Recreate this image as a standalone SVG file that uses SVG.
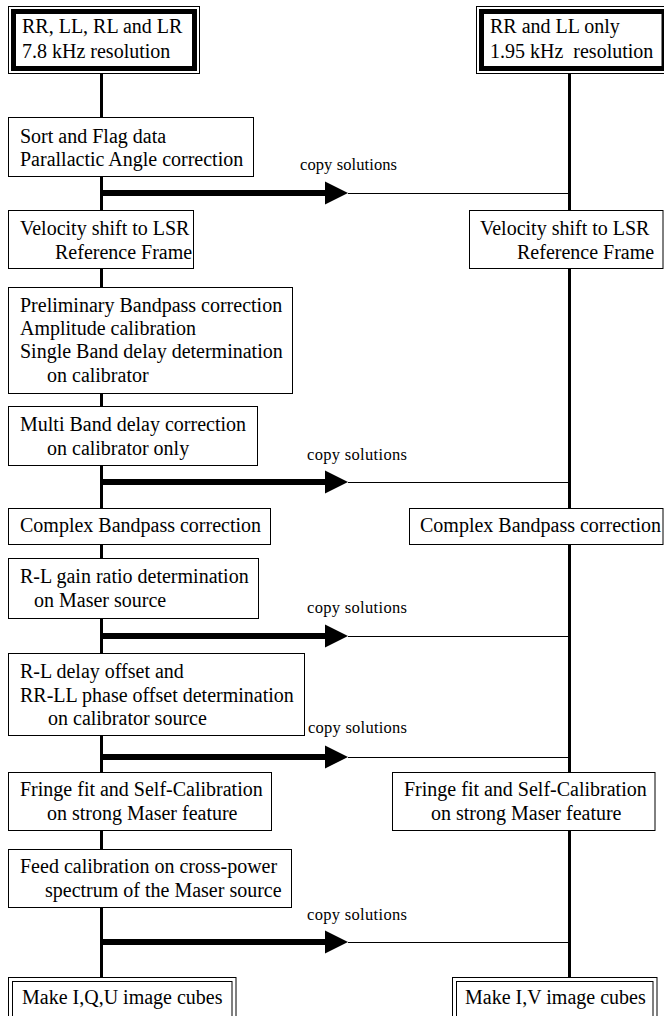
<svg xmlns="http://www.w3.org/2000/svg" width="664" height="1016" viewBox="0 0 664 1016">
<style>
  text { font-family: "Liberation Serif", "Times New Roman", serif; font-size: 20px; fill: #000; white-space: pre; }
  .lbl { font-size: 16.5px; }
  .box { fill: #fff; stroke: #000; stroke-width: 1; }
  .band { fill: none; stroke: #000; stroke-width: 5; }
  .thin { fill: none; stroke: #000; stroke-width: 1; }
  .spine { stroke: #000; stroke-width: 3; fill: none; }
  .thick { stroke: #000; stroke-width: 6; fill: none; }
  .head { fill: #000; }
</style>
<defs>
  <polygon id="ah" class="head" points="0,-11.5 23,0 0,11.5"/>
</defs>
<rect width="664" height="1016" fill="#fff"/>

<g id="connectors">
  <line class="spine" x1="101.5" y1="74" x2="101.5" y2="978"/>
  <line class="spine" x1="569.5" y1="74" x2="569.5" y2="978"/>
  <g id="copy1">
    <line class="thick" x1="102" y1="193" x2="326" y2="193"/>
    <use href="#ah" x="325" y="193"/>
    <line class="thin" x1="348" y1="193.5" x2="570" y2="193.5"/>
    <text class="lbl" x="300" y="170" textLength="97" lengthAdjust="spacing">copy solutions</text>
  </g>
  <g id="copy2">
    <line class="thick" x1="102" y1="482" x2="326" y2="482"/>
    <use href="#ah" x="325" y="482"/>
    <line class="thin" x1="348" y1="482.5" x2="570" y2="482.5"/>
    <text class="lbl" x="307" y="460" textLength="100" lengthAdjust="spacing">copy solutions</text>
  </g>
  <g id="copy3">
    <line class="thick" x1="102" y1="636" x2="326" y2="636"/>
    <use href="#ah" x="325" y="636"/>
    <line class="thin" x1="348" y1="636.5" x2="570" y2="636.5"/>
    <text class="lbl" x="307" y="613" textLength="100" lengthAdjust="spacing">copy solutions</text>
  </g>
  <g id="copy4">
    <line class="thick" x1="102" y1="757" x2="326" y2="757"/>
    <use href="#ah" x="325" y="757"/>
    <line class="thin" x1="348" y1="757.5" x2="570" y2="757.5"/>
    <text class="lbl" x="308" y="733" textLength="99" lengthAdjust="spacing">copy solutions</text>
  </g>
  <g id="copy5">
    <line class="thick" x1="102" y1="942" x2="326" y2="942"/>
    <use href="#ah" x="325" y="942"/>
    <line class="thin" x1="348" y1="942.5" x2="570" y2="942.5"/>
    <text class="lbl" x="307" y="920" textLength="100" lengthAdjust="spacing">copy solutions</text>
  </g>
</g>

<g id="start-left">
  <rect class="box" x="8.5" y="6.5" width="191" height="67"/>
  <rect class="band" x="13.5" y="11.5" width="181" height="57"/>
  <text x="22" y="33">RR, LL, RL and LR</text>
  <text x="22" y="58">7.8 kHz resolution</text>
</g>
<g id="start-right">
  <rect class="box" x="476.5" y="6.5" width="192.5" height="67"/>
  <rect class="band" x="481.5" y="11.5" width="182.5" height="57"/>
  <text x="490" y="33">RR and LL only</text>
  <text x="490" y="58">1.95 kHz  resolution</text>
</g>

<g id="sort-flag">
  <rect class="box" x="8.5" y="117.5" width="245" height="59"/>
  <text x="20" y="143">Sort and Flag data</text>
  <text x="20" y="166">Parallactic Angle correction</text>
</g>

<g id="velocity-left">
  <rect class="box" x="8.5" y="210.5" width="185" height="58"/>
  <text x="20" y="235">Velocity shift to LSR</text>
  <text x="55" y="259">Reference Frame</text>
</g>
<g id="velocity-right">
  <rect class="box" x="469.5" y="210.5" width="193.5" height="58"/>
  <text x="480" y="235">Velocity shift to LSR</text>
  <text x="517" y="259">Reference Frame</text>
</g>

<g id="preliminary">
  <rect class="box" x="8.5" y="287.5" width="284" height="106"/>
  <text x="20" y="312">Preliminary Bandpass correction</text>
  <text x="20" y="335">Amplitude calibration</text>
  <text x="20" y="358">Single Band delay determination</text>
  <text x="47" y="382">on calibrator</text>
</g>

<g id="multiband">
  <rect class="box" x="8.5" y="406.5" width="249" height="59"/>
  <text x="20" y="431">Multi Band delay correction</text>
  <text x="47" y="455">on calibrator only</text>
</g>

<g id="complex-left">
  <rect class="box" x="8.5" y="508.5" width="262" height="36"/>
  <text x="20" y="532">Complex Bandpass correction</text>
</g>
<g id="complex-right">
  <rect class="box" x="409.5" y="508.5" width="253.5" height="36"/>
  <text x="420" y="532">Complex Bandpass correction</text>
</g>

<g id="gain-ratio">
  <rect class="box" x="8.5" y="558.5" width="250" height="60"/>
  <text x="20" y="583">R-L gain ratio determination</text>
  <text x="34" y="607">on Maser source</text>
</g>

<g id="delay-offset">
  <rect class="box" x="8.5" y="653.5" width="296" height="82"/>
  <text x="20" y="678">R-L delay offset and</text>
  <text x="20" y="702">RR-LL phase offset determination</text>
  <text x="48" y="725">on calibrator source</text>
</g>

<g id="fringe-left">
  <rect class="box" x="8.5" y="772.5" width="263" height="58"/>
  <text x="20" y="796">Fringe fit and Self-Calibration</text>
  <text x="47" y="820">on strong Maser feature</text>
</g>
<g id="fringe-right">
  <rect class="box" x="392.5" y="772.5" width="262.5" height="58"/>
  <text x="404" y="796">Fringe fit and Self-Calibration</text>
  <text x="431" y="820">on strong Maser feature</text>
</g>

<g id="feed-cal">
  <rect class="box" x="8.5" y="849.5" width="283" height="58"/>
  <text x="20" y="873">Feed calibration on cross-power</text>
  <text x="45" y="897">spectrum of the Maser source</text>
</g>

<g id="image-left">
  <rect class="box" x="8.5" y="977.5" width="227.5" height="50"/>
  <rect class="box" x="12.5" y="981.5" width="219.5" height="42"/>
  <text x="22" y="1004">Make I,Q,U image cubes</text>
</g>
<g id="image-right">
  <rect class="box" x="452.5" y="977.5" width="204.5" height="50"/>
  <rect class="box" x="456.5" y="981.5" width="196.5" height="42"/>
  <text x="465" y="1004">Make I,V image cubes</text>
</g>
</svg>
